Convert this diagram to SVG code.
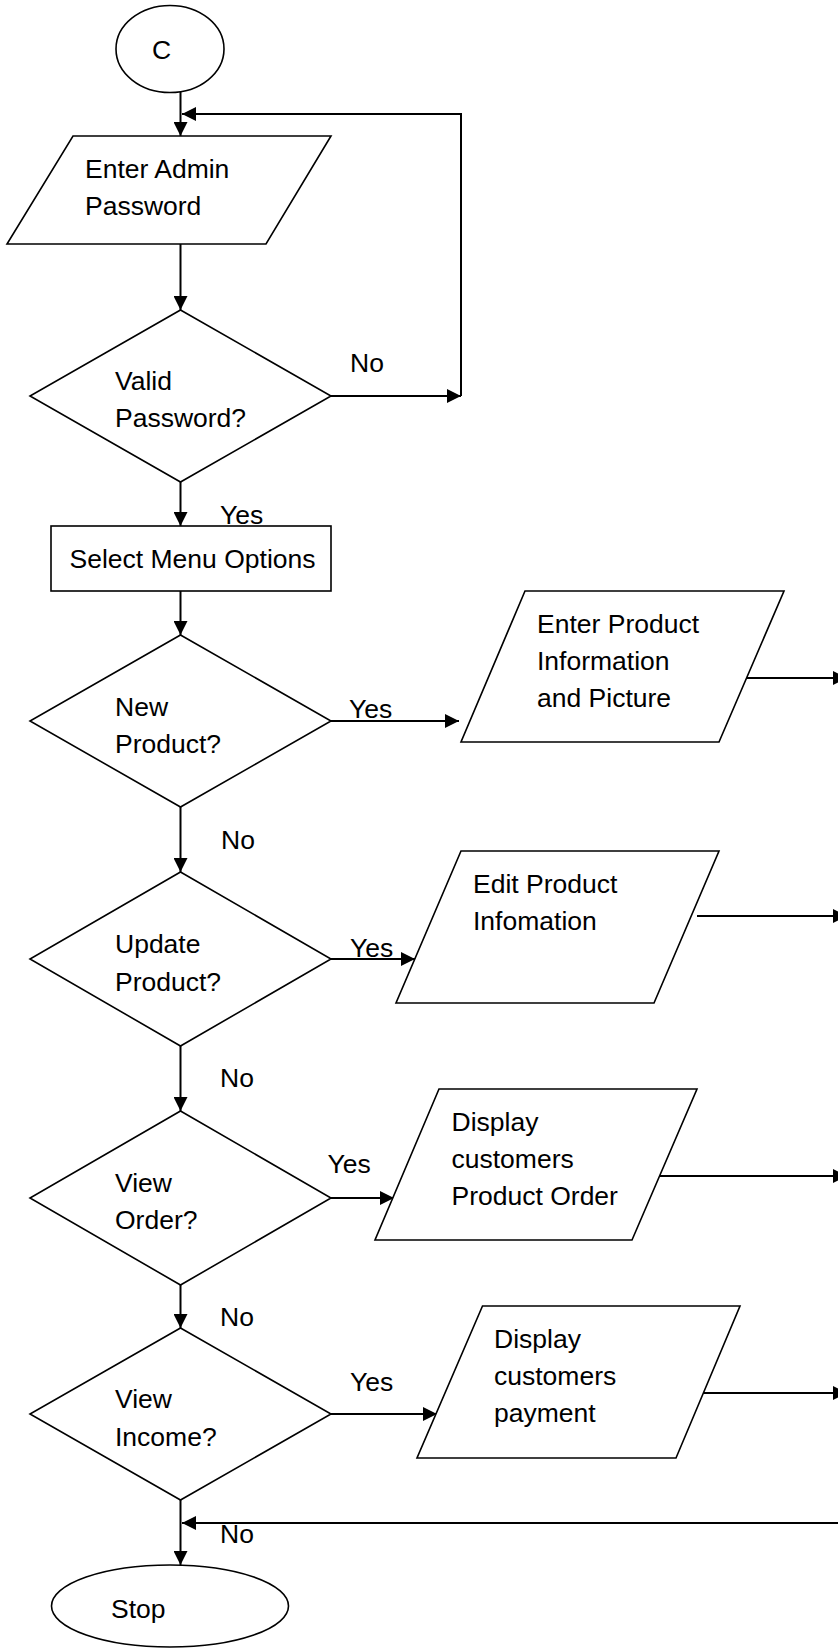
<svg xmlns="http://www.w3.org/2000/svg" width="838" height="1650" viewBox="0 0 838 1650">
<defs>
<style>
.shape{fill:#fff;stroke:#000;stroke-width:1.6}
.conn{fill:none;stroke:#000;stroke-width:2}
text{font-family:"Liberation Sans",Arial,sans-serif;font-size:26.5px;fill:#000}
</style>
<marker id="ah" markerUnits="userSpaceOnUse" markerWidth="14" markerHeight="14" viewBox="0 0 13 13" refX="13" refY="6.5" orient="auto">
<path d="M0,0 L13,6.5 L0,13 Z" fill="#000"/>
</marker>
</defs>
<rect width="838" height="1650" fill="#fff"/>

<g id="connectors">
<path class="conn" d="M180.5,92 V136" marker-end="url(#ah)"/>
<path class="conn" d="M180.5,244 V310" marker-end="url(#ah)"/>
<path class="conn" d="M331,396 H461" marker-end="url(#ah)"/>
<path class="conn" d="M461,396 V114 H182" marker-end="url(#ah)"/>
<path class="conn" d="M180.5,482 V526" marker-end="url(#ah)"/>
<path class="conn" d="M180.5,591 V635" marker-end="url(#ah)"/>
<path class="conn" d="M331,721 H459" marker-end="url(#ah)"/>
<path class="conn" d="M740,678 H847" marker-end="url(#ah)"/>
<path class="conn" d="M180.5,807 V872" marker-end="url(#ah)"/>
<path class="conn" d="M331,959 H415" marker-end="url(#ah)"/>
<path class="conn" d="M697,916 H847" marker-end="url(#ah)"/>
<path class="conn" d="M180.5,1046 V1111" marker-end="url(#ah)"/>
<path class="conn" d="M331,1198 H394" marker-end="url(#ah)"/>
<path class="conn" d="M654.5,1176 H847" marker-end="url(#ah)"/>
<path class="conn" d="M180.5,1285 V1328" marker-end="url(#ah)"/>
<path class="conn" d="M331,1414 H437" marker-end="url(#ah)"/>
<path class="conn" d="M697,1393 H847" marker-end="url(#ah)"/>
<path class="conn" d="M845,1523 H182" marker-end="url(#ah)"/>
<path class="conn" d="M180.5,1500 V1565" marker-end="url(#ah)"/>
<text x="350" y="372">No</text>
<text x="220" y="524">Yes</text>
<text x="349" y="718">Yes</text>
<text x="221" y="849">No</text>
<text x="350" y="957">Yes</text>
<text x="220" y="1087">No</text>
<text x="327.5" y="1173">Yes</text>
<text x="220" y="1326">No</text>
<text x="350" y="1391">Yes</text>
<text x="220" y="1543">No</text>
</g>

<g id="start">
<ellipse class="shape" cx="170" cy="49" rx="54" ry="43.5"/>
<text x="152" y="59">C</text>
</g>

<g id="enter-password">
<polygon class="shape" points="73,136 331,136 266,244 7,244"/>
<text x="85" y="178">Enter Admin</text>
<text x="85" y="215">Password</text>
</g>

<g id="valid-password">
<polygon class="shape" points="180.5,310 331,396 180.5,482 30,396"/>
<text x="115" y="390">Valid</text>
<text x="115" y="427">Password?</text>
</g>

<g id="select-menu">
<rect class="shape" x="51" y="526" width="280" height="65"/>
<text x="69.5" y="568">Select Menu Options</text>
</g>

<g id="new-product">
<polygon class="shape" points="180.5,635 331,721 180.5,807 30,721"/>
<text x="115" y="716">New</text>
<text x="115" y="753">Product?</text>
</g>

<g id="enter-product">
<polygon class="shape" points="525,591 784,591 719,742 461,742"/>
<text x="537" y="633">Enter Product</text>
<text x="537" y="670">Information</text>
<text x="537" y="707">and Picture</text>
</g>

<g id="update-product">
<polygon class="shape" points="180.5,872 331,959 180.5,1046 30,959"/>
<text x="115" y="953">Update</text>
<text x="115" y="991">Product?</text>
</g>

<g id="edit-product">
<polygon class="shape" points="461,851 719,851 654,1003 396,1003"/>
<text x="473" y="893">Edit Product</text>
<text x="473" y="930">Infomation</text>
</g>

<g id="view-order">
<polygon class="shape" points="180.5,1111 331,1198 180.5,1285 30,1198"/>
<text x="115" y="1192">View</text>
<text x="115" y="1229">Order?</text>
</g>

<g id="display-order">
<polygon class="shape" points="439,1089 697,1089 632,1240 375,1240"/>
<text x="451.5" y="1131">Display</text>
<text x="451.5" y="1168">customers</text>
<text x="451.5" y="1205">Product Order</text>
</g>

<g id="view-income">
<polygon class="shape" points="180.5,1328 331,1414 180.5,1500 30,1414"/>
<text x="115" y="1408">View</text>
<text x="115" y="1446">Income?</text>
</g>

<g id="display-payment">
<polygon class="shape" points="482.5,1306 740,1306 676,1458 417,1458"/>
<text x="494" y="1348">Display</text>
<text x="494" y="1385">customers</text>
<text x="494" y="1422">payment</text>
</g>

<g id="stop">
<ellipse class="shape" cx="170" cy="1606" rx="118.5" ry="41"/>
<text x="111" y="1618">Stop</text>
</g>
</svg>
